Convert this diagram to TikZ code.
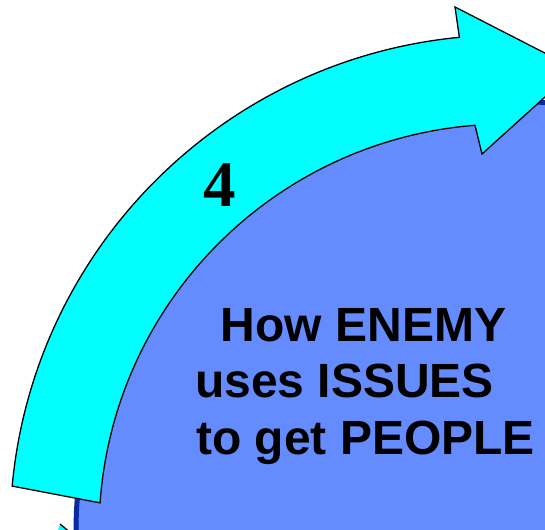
\documentclass[tikz,border=0pt]{standalone}
\usepackage{fontspec}
\setmainfont{Liberation Sans}
\newfontfamily\numfont{Liberation Serif}
\usetikzlibrary{calc}
\definecolor{discblue}{RGB}{100,140,255}
\definecolor{discedge}{RGB}{10,40,160}
\definecolor{arrowcyan}{RGB}{0,255,255}
\tikzset{
  disc/.style={circle, fill=discblue, draw=discedge, line width=5pt, inner sep=0pt},
  bigarrow/.style={fill=arrowcyan, draw=black, line width=1.3pt, line join=miter},
  caption/.style={font=\fontsize{48}{56}\selectfont\bfseries, inner sep=0pt, anchor=base west},
  numlabel/.style={font=\fontsize{65}{70}\selectfont\numfont\bfseries, inner sep=0pt, anchor=base}
}
\begin{document}
\begin{tikzpicture}[x=1pt,y=1pt]
\clip (0,0) rectangle (545,-529);
\fill[white] (0,0) rectangle (545,-529);
\coordinate (C) at (507,-532);
% main disc
\node[disc, minimum size=862pt] (disc) at (C) {};
% tip of another arrow at bottom left
\fill[arrowcyan] (60,-524) -- (72,-534) -- (57,-534) -- cycle;
\draw[black, line width=1.3pt] (60,-524) -- (72,-534);
% curved arrow
\coordinate (tailout) at ($(C)+(174.7:497)$);
\coordinate (headin) at ($(C)+(94.5:408)$);
\path[bigarrow] (tailout) arc[start angle=174.7, end angle=95.5, radius=497]
  -- (455,-7) -- (576,-69) -- (482,-154) -- (headin)
  arc[start angle=94.5, end angle=175.9, radius=408] -- cycle;
% labels
\node[numlabel] (num) at (219.5,-207) {4};
\node[caption] (l1) at (220.5,-341.5) {How ENEMY};
\node[caption] (l2) at (195,-397) {uses ISSUES};
\node[caption] (l3) at (196,-454) {to get PEOPLE};
\end{tikzpicture}
\end{document}
